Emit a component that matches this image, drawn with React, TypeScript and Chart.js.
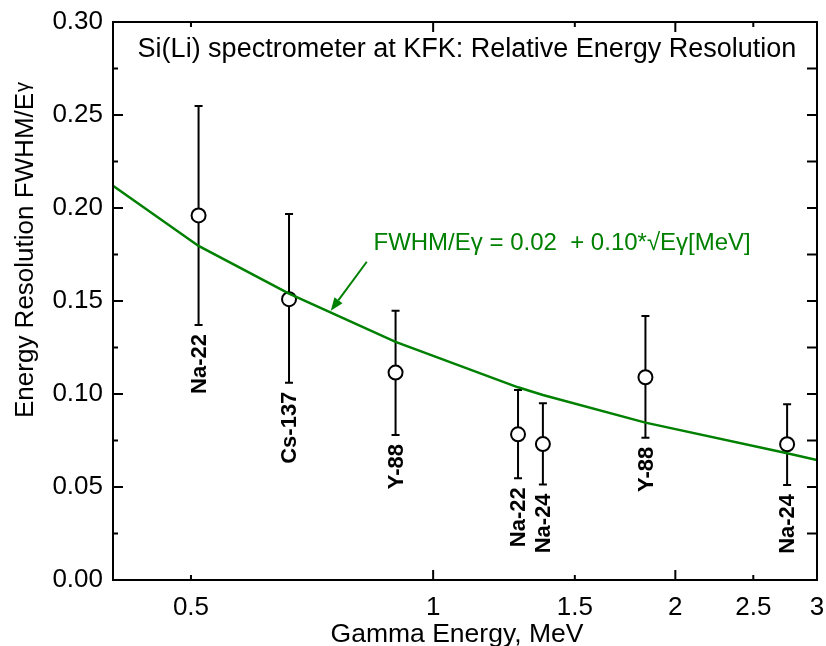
import React, { useEffect, useRef } from 'react';
import { Chart, registerables } from 'chart.js';

Chart.register(...registerables);

// ---- data ----
const energies = [0.511, 0.662, 0.898, 1.275, 1.369, 1.836, 2.754];
const resolution = [0.196, 0.151, 0.1115, 0.0783, 0.0731, 0.109, 0.073];
const errHigh = [0.2548, 0.1968, 0.1448, 0.1022, 0.095, 0.1419, 0.0945];
const errLow = [0.1371, 0.1061, 0.078, 0.0547, 0.0514, 0.0765, 0.0511];
const sources = ['Na-22', 'Cs-137', 'Y-88', 'Na-22', 'Na-24', 'Y-88', 'Na-24'];

const fitEnergies = [0.4, 0.511, 0.662, 0.898, 1.275, 1.369, 1.836, 2.754, 3.0];
const fitValues = [0.212, 0.1796, 0.154, 0.128, 0.1036, 0.0995, 0.0846, 0.0681, 0.0645];

const xTickValues = [0.5, 1, 1.5, 2, 2.5, 3];
const yTickValues = [0, 0.05, 0.1, 0.15, 0.2, 0.25, 0.3];
const yMinorValues = [0.025, 0.075, 0.125, 0.175, 0.225, 0.275];

const titleText = 'Si(Li) spectrometer at KFK: Relative Energy Resolution';
const xTitleText = 'Gamma Energy, MeV';
const yTitleText = 'Energy Resolution FWHM/E';
const yTitleSub = 'γ';
const fitLabelText = 'FWHM/Eγ = 0.02  + 0.10*√Eγ[MeV]';
const fitLabelPos = { x: 0.843, y: 0.1774 };
const arrowTail = { x: 0.827, y: 0.1711 };
const arrowTip = { x: 0.746, y: 0.1448 };

const FONT = '"Liberation Sans", Arial, Helvetica, sans-serif';
const GREEN = '#008000';

const customPlugin = {
  id: 'customDraw',
  beforeDatasetsDraw(chart: any) {
    const { ctx, scales } = chart;
    const x = scales.x;
    const y = scales.y;
    ctx.save();
    ctx.strokeStyle = '#000';
    ctx.lineWidth = 2;
    energies.forEach((e, i) => {
      const px = x.getPixelForValue(e);
      const top = y.getPixelForValue(errHigh[i]);
      const bot = y.getPixelForValue(errLow[i]);
      ctx.beginPath();
      ctx.moveTo(px, top);
      ctx.lineTo(px, bot);
      ctx.moveTo(px - 4, top);
      ctx.lineTo(px + 4, top);
      ctx.moveTo(px - 4, bot);
      ctx.lineTo(px + 4, bot);
      ctx.stroke();
    });
    ctx.restore();
  },
  afterDatasetsDraw(chart: any) {
    const { ctx, scales, chartArea } = chart;
    const x = scales.x;
    const y = scales.y;
    const { left, right, top, bottom } = chartArea;
    ctx.save();

    // frame
    ctx.strokeStyle = '#000';
    ctx.lineWidth = 2;
    ctx.strokeRect(left, top, right - left, bottom - top);

    // ticks (inward)
    ctx.beginPath();
    xTickValues.forEach((v) => {
      const px = x.getPixelForValue(v);
      const len = Number.isInteger(v) ? 10 : 5;
      ctx.moveTo(px, bottom);
      ctx.lineTo(px, bottom - len);
      ctx.moveTo(px, top);
      ctx.lineTo(px, top + len);
    });
    yTickValues.forEach((v) => {
      const py = y.getPixelForValue(v);
      ctx.moveTo(left, py);
      ctx.lineTo(left + 10, py);
      ctx.moveTo(right, py);
      ctx.lineTo(right - 10, py);
    });
    yMinorValues.forEach((v) => {
      const py = y.getPixelForValue(v);
      ctx.moveTo(left, py);
      ctx.lineTo(left + 5, py);
      ctx.moveTo(right, py);
      ctx.lineTo(right - 10, py);
    });
    ctx.stroke();

    // source labels (rotated, bold)
    ctx.fillStyle = '#000';
    ctx.font = `bold 22px ${FONT}`;
    ctx.textAlign = 'right';
    ctx.textBaseline = 'middle';
    energies.forEach((e, i) => {
      const px = x.getPixelForValue(e);
      const py = y.getPixelForValue(errLow[i]) + 9;
      ctx.save();
      ctx.translate(px + 1, py);
      ctx.rotate(-Math.PI / 2);
      ctx.fillText(sources[i], 0, 0);
      ctx.restore();
    });

    // fit label
    ctx.fillStyle = GREEN;
    ctx.font = `24px ${FONT}`;
    ctx.textAlign = 'left';
    ctx.textBaseline = 'alphabetic';
    ctx.fillText(fitLabelText, x.getPixelForValue(fitLabelPos.x), y.getPixelForValue(fitLabelPos.y));

    // arrow
    const tx = x.getPixelForValue(arrowTail.x);
    const ty = y.getPixelForValue(arrowTail.y);
    const hx = x.getPixelForValue(arrowTip.x);
    const hy = y.getPixelForValue(arrowTip.y);
    const ang = Math.atan2(hy - ty, hx - tx);
    const headLen = 13;
    const headW = 5;
    const bx = hx - headLen * Math.cos(ang);
    const by = hy - headLen * Math.sin(ang);
    ctx.strokeStyle = GREEN;
    ctx.lineWidth = 2;
    ctx.beginPath();
    ctx.moveTo(tx, ty);
    ctx.lineTo(bx, by);
    ctx.stroke();
    ctx.beginPath();
    ctx.moveTo(hx, hy);
    ctx.lineTo(bx + headW * Math.sin(ang), by - headW * Math.cos(ang));
    ctx.lineTo(bx - headW * Math.sin(ang), by + headW * Math.cos(ang));
    ctx.closePath();
    ctx.fillStyle = GREEN;
    ctx.fill();

    ctx.restore();
  },
  afterDraw(chart: any) {
    const { ctx, chartArea } = chart;
    const { left, right, top, bottom } = chartArea;
    ctx.save();
    ctx.fillStyle = '#000';
    // title
    ctx.font = `27px ${FONT}`;
    ctx.textAlign = 'center';
    ctx.textBaseline = 'alphabetic';
    ctx.fillText(titleText, (left + right) / 2 + 2, top + 35);

    // x title
    ctx.font = `26.5px ${FONT}`;
    ctx.fillText(xTitleText, (left + right) / 2 - 8, bottom + 62);

    // y title
    ctx.save();
    ctx.translate(33, 418);
    ctx.rotate(-Math.PI / 2);
    ctx.textAlign = 'left';
    ctx.font = `26px ${FONT}`;
    ctx.fillText(yTitleText, 0, 0);
    const w = ctx.measureText(yTitleText).width;
    ctx.font = `20px ${FONT}`;
    ctx.fillText(yTitleSub, w + 1, -4);
    ctx.restore();

    ctx.restore();
  },
};

export default function App() {
  const canvasRef = useRef<HTMLCanvasElement | null>(null);

  useEffect(() => {
    document.body.style.margin = '0';
    const canvas = canvasRef.current;
    if (!canvas) return;
    const chart = new Chart(canvas, {
      type: 'scatter',
      data: {
        datasets: [
          {
            type: 'line',
            label: 'fit',
            data: fitEnergies.map((e, i) => ({ x: e, y: fitValues[i] })),
            borderColor: GREEN,
            borderWidth: 2.5,
            pointRadius: 0,
            tension: 0,
            fill: false,
            order: 0,
          } as any,
          {
            type: 'scatter',
            label: 'data',
            data: energies.map((e, i) => ({ x: e, y: resolution[i] })),
            pointRadius: 7,
            pointBorderWidth: 2,
            borderColor: '#000',
            backgroundColor: '#fff',
            pointBackgroundColor: '#fff',
            pointBorderColor: '#000',
            order: 1,
          } as any,
        ],
      },
      options: {
        animation: false,
        responsive: true,
        maintainAspectRatio: false,
        layout: { padding: { top: 22, right: 8, left: 0, bottom: 0 } },
        plugins: {
          legend: { display: false },
          tooltip: { enabled: false },
          title: { display: false },
        },
        scales: {
          x: {
            type: 'logarithmic',
            min: 0.4,
            max: 3,
            afterBuildTicks: (s: any) => {
              s.ticks = xTickValues.map((v) => ({ value: v }));
            },
            afterFit: (s: any) => {
              s.height = 66;
              s.paddingLeft = 0;
              s.paddingRight = 0;
            },
            grid: { display: false, drawTicks: false },
            border: { display: false },
            ticks: {
              autoSkip: false,
              maxRotation: 0,
              padding: 12,
              color: '#000',
              font: { size: 26, family: FONT },
              callback: (v: any) => String(v),
            },
          },
          y: {
            type: 'linear',
            min: 0,
            max: 0.3,
            afterBuildTicks: (s: any) => {
              s.ticks = yTickValues.map((v) => ({ value: v }));
            },
            afterFit: (s: any) => {
              s.width = 113;
              s.paddingTop = 0;
              s.paddingBottom = 0;
            },
            grid: { display: false, drawTicks: false },
            border: { display: false },
            ticks: {
              padding: 10,
              color: '#000',
              font: { size: 26, family: FONT },
              callback: (v: any) => Number(v).toFixed(2),
            },
          },
        },
      } as any,
      plugins: [customPlugin],
    });
    return () => chart.destroy();
  }, []);

  return (
    <div style={{ position: 'relative', width: 826, height: 646 }}>
      <canvas ref={canvasRef} />
    </div>
  );
}
